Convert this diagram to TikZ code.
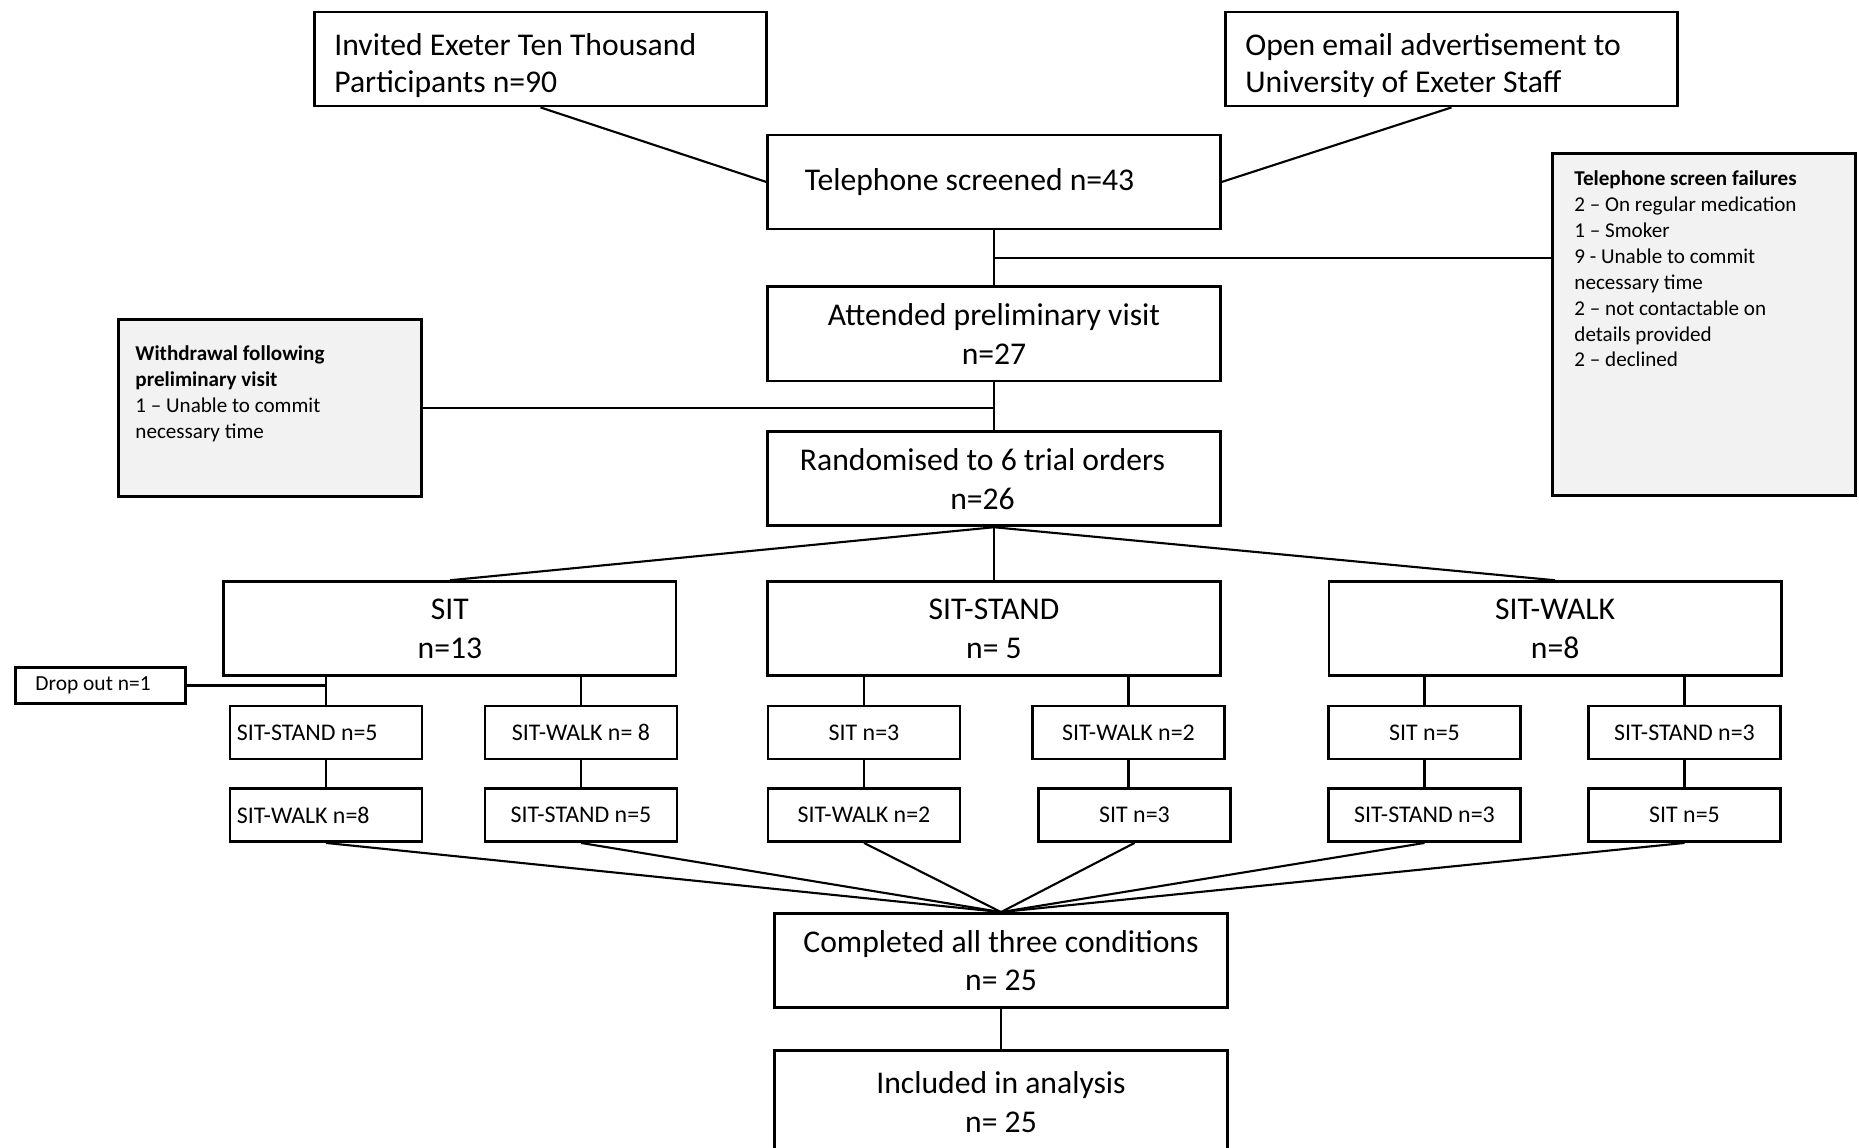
\documentclass[tikz,border=0pt]{standalone}
\usepackage{fontspec}
\setmainfont{Carlito}
\usetikzlibrary{positioning, calc}

\begin{document}
\begin{tikzpicture}[
        x=0.01cm, y=-0.01cm,
        box/.style={draw, line width=0.8pt, rectangle, minimum width=4.52cm, minimum height=0.94cm, inner sep=0pt, align=center, font=\fontsize{9}{11}\selectfont},
        topbox/.style={box, inner xsep=0.2cm, inner ysep=0pt, font=\fontsize{9}{10.8}\selectfont},
        subbox/.style={draw, line width=0.8pt, rectangle, minimum width=1.92cm, minimum height=0.53cm, inner sep=0pt, font=\fontsize{6.8}{8}\selectfont},
        lsubbox/.style={subbox, inner xsep=0.07cm},
        note/.style={draw, line width=0.8pt, rectangle, fill=gray!10, inner ysep=0pt, font=\fontsize{6}{7.35}\selectfont},
        link/.style={line width=0.6pt}
    ]
        \useasboundingbox (0,0) rectangle (1859,1147);
        \clip (0,0) rectangle (1859,1147);

        % Recruitment
        \node (invited) [topbox] at (540.5,59) {\parbox[c][0.94cm][t]{4.12cm}{\rule{0pt}{0.43cm}Invited Exeter Ten Thousand\\ Participants n=90}};
        \node (email) [topbox] at (1451.5,59) {\parbox[c][0.94cm][t]{4.12cm}{\rule{0pt}{0.43cm}Open email advertisement to\\ University of Exeter Staff}};

        % Screening
        \node (tel) [box, inner xsep=0.37cm] at (994,182) {\parbox{3.78cm}{Telephone screened n=43}};
        \node (att) [box, below=0.55cm of tel] {Attended preliminary visit\\ n=27};
        \node (rand) [box, below=0.48cm of att] {\parbox{3.69cm}{\centering Randomised to 6 trial orders\\ n=26}\hspace{0.23cm}};

        % Exclusions
        \node (fail) [note, inner xsep=0.22cm] at (1704,324.5) {\parbox[c][3.42cm][t]{2.59cm}{\raggedright\rule{0pt}{0.325cm}%
            \textbf{Telephone screen failures}\\
            2 -- On regular medication\\
            1 -- Smoker\\
            9 - Unable to commit\\
            necessary time\\
            2 -- not contactable on\\
            details provided\\
            2 -- declined}};
        \node (wd) [note, inner xsep=0.17cm] at (270,408) {\parbox[c][1.77cm][t]{2.69cm}{\raggedright\rule{0pt}{0.415cm}%
            \textbf{Withdrawal following}\\
            \textbf{preliminary visit}\\
            1 -- Unable to commit\\
            necessary time}};

        % First condition
        \node (stand) [box, below=0.53cm of rand] {SIT-STAND\\ n= 5};
        \node (sit) [box, left=0.89cm of stand] {SIT\\ n=13};
        \node (walk) [box, right=1.06cm of stand] {SIT-WALK\\ n=8};

        % Second and third conditions
        \node (sitL1) [lsubbox] at (326,732.5) {\parbox{1.78cm}{SIT-STAND n=5}};
        \node (sitR1) [subbox] at (581,732.5) {SIT-WALK n= 8};
        \node (standL1) [subbox] at (864,732.5) {SIT n=3};
        \node (standR1) [subbox] at (1128.5,732.5) {SIT-WALK n=2};
        \node (walkL1) [subbox] at (1424.5,732.5) {SIT n=5};
        \node (walkR1) [subbox] at (1684.5,732.5) {SIT-STAND n=3};

        \node (sitL2) [lsubbox] at (326,815) {\parbox{1.78cm}{SIT-WALK n=8}};
        \node (sitR2) [subbox] at (581,815) {SIT-STAND n=5};
        \node (standL2) [subbox] at (864,815) {SIT-WALK n=2};
        \node (standR2) [subbox] at (1134.5,815) {SIT n=3};
        \node (walkL2) [subbox] at (1424.5,815) {SIT-STAND n=3};
        \node (walkR2) [subbox] at (1684.5,815) {SIT n=5};

        \node (drop) [subbox, minimum width=1.70cm, minimum height=0.36cm, inner xsep=0.2cm, font=\fontsize{6.1}{7}\selectfont] at (100.5,685.5) {\parbox{1.30cm}{Drop out n=1}};

        % Outcome
        \node (done) [box] at (1001,960.5) {Completed all three conditions\\ n= 25};
        \node (incl) [box, minimum height=1.04cm, below=0.40cm of done] {Included in analysis\\ n= 25};

        % Connections
        \draw [link] (invited.south) -- (tel.west);
        \draw [link] (email.south) -- (tel.east);
        \draw [link] (tel) -- (att);
        \coordinate (telmid) at ($(tel.south)!0.5!(att.north)$);
        \draw [link] (telmid) -- (telmid -| fail.west);
        \draw [link] (att) -- (rand);
        \draw [link] (wd.east) -- (wd.east -| att.south);

        \draw [link] (rand.south) -- (sit.north);
        \draw [link] (rand) -- (stand);
        \draw [link] (rand.south) -- (walk.north);

        \draw [link] (sitL1.north) -- (sitL1.north |- sit.south);
        \draw [link] (sitR1.north) -- (sitR1.north |- sit.south);
        \draw [link] (standL1.north) -- (standL1.north |- stand.south);
        \draw [link] (standR1.north) -- (standR1.north |- stand.south);
        \draw [link] (walkL1.north) -- (walkL1.north |- walk.south);
        \draw [link] (walkR1.north) -- (walkR1.north |- walk.south);
        \draw [link] (drop.east) -- (drop.east -| sitL1.north);

        \draw [link] (sitL1.south) -- (sitL1.south |- sitL2.north);
        \draw [link] (sitR1.south) -- (sitR1.south |- sitR2.north);
        \draw [link] (standL1.south) -- (standL1.south |- standL2.north);
        \draw [link] (standR1.south) -- (standR1.south |- standR2.north);
        \draw [link] (walkL1.south) -- (walkL1.south |- walkL2.north);
        \draw [link] (walkR1.south) -- (walkR1.south |- walkR2.north);

        \draw [link] (sitL2.south) -- (done.north);
        \draw [link] (sitR2.south) -- (done.north);
        \draw [link] (standL2.south) -- (done.north);
        \draw [link] (standR2.south) -- (done.north);
        \draw [link] (walkL2.south) -- (done.north);
        \draw [link] (walkR2.south) -- (done.north);
        \draw [link] (done) -- (incl);
    \end{tikzpicture}
\end{document}
